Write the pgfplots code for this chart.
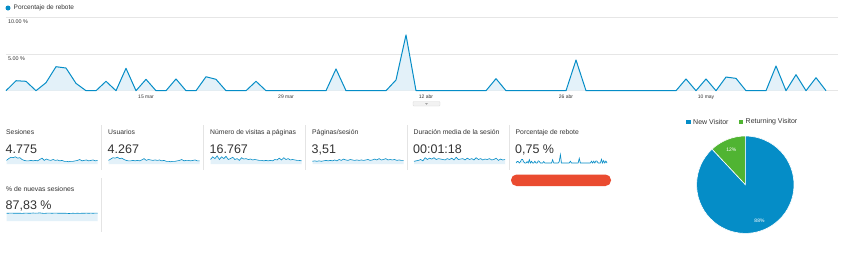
\documentclass[border=0pt]{standalone}
\usepackage{pgfplots}
\pgfplotsset{compat=1.18}
\usepackage{pgfplotstable}
\usepackage{fontspec}
\setmainfont{Liberation Sans}
\definecolor{gablue}{HTML}{058DC7}
\definecolor{gafill}{HTML}{E3F1F9}
\definecolor{gagreen}{HTML}{50B432}
\definecolor{gared}{HTML}{EA4B30}
\definecolor{gagrid}{HTML}{E6E6E6}
\definecolor{gasep}{HTML}{E4E4E4}
\definecolor{gatext}{HTML}{333333}

% Porcentaje de rebote, day 0 = 1 mar
\pgfplotstableread[row sep=\\]{
d v\\
0 0\\ 1 1.36\\ 2 1.28\\ 3 0\\ 4 1.09\\ 5 3.27\\ 6 3.09\\ 7 1.00\\ 8 0\\ 9 0\\
10 1.28\\ 11 0\\ 12 3.05\\ 13 0\\ 14 1.55\\ 15 0\\ 16 0\\ 17 1.60\\ 18 0\\ 19 0\\
20 1.90\\ 21 1.55\\ 22 0\\ 23 0\\ 24 0\\ 25 1.28\\ 26 0\\ 27 0\\ 28 0\\ 29 0\\
30 0\\ 31 0\\ 32 0\\ 33 2.96\\ 34 0\\ 35 0\\ 36 0\\ 37 0\\ 38 0\\ 39 1.46\\
40 7.59\\ 41 0\\ 42 0\\ 43 0\\ 44 0\\ 45 0\\ 46 0\\ 47 0\\ 48 0\\ 49 1.64\\
50 0\\ 51 0\\ 52 0\\ 53 0\\ 54 0\\ 55 0\\ 56 0\\ 57 4.18\\ 58 0\\ 59 0\\
60 0\\ 61 0\\ 62 0\\ 63 0\\ 64 0\\ 65 0\\ 66 0\\ 67 0\\ 68 1.60\\ 69 0\\
70 1.60\\ 71 0\\ 72 1.86\\ 73 1.68\\ 74 0\\ 75 0\\ 76 0\\ 77 3.36\\ 78 0\\ 79 2.18\\
80 0\\ 81 1.77\\ 82 0\\
}\bounce

\pgfplotstableread[row sep=\\]{
x y\\
0 4\\ 1 6\\ 2 7.5\\ 3 7\\ 4 8\\ 5 6.5\\ 6 7\\ 7 5\\ 8 4\\ 9 3.5\\ 10 3.5\\ 11 4\\ 12 3.5\\ 13 4\\
14 3.5\\ 15 5\\ 16 6.5\\ 17 4\\ 18 5.5\\ 19 4.5\\ 20 4\\ 21 5\\ 22 4\\ 23 4.5\\ 24 3.5\\ 25 4\\
26 3\\ 27 3\\ 28 2.5\\ 29 3\\ 30 3\\ 31 3.5\\ 32 4\\ 33 5\\ 34 3.5\\ 35 4\\ 36 4.5\\ 37 3.5\\
38 4\\ 39 4.5\\ 40 3.5\\ 41 4\\
}\sesiones

\pgfplotstableread[row sep=\\]{
x y\\
0 4\\ 1 5.5\\ 2 7\\ 3 6.5\\ 4 7.5\\ 5 6\\ 6 6.5\\ 7 5\\ 8 4\\ 9 3.5\\ 10 3.5\\ 11 4\\ 12 3.5\\ 13 4\\
14 3.5\\ 15 4.5\\ 16 6\\ 17 4\\ 18 5\\ 19 4.5\\ 20 4\\ 21 4.5\\ 22 4\\ 23 4.5\\ 24 3.5\\ 25 4\\
26 3\\ 27 3\\ 28 2.5\\ 29 3\\ 30 3\\ 31 3.5\\ 32 4\\ 33 5\\ 34 3.5\\ 35 4\\ 36 4\\ 37 3.5\\
38 4\\ 39 4.5\\ 40 3.5\\ 41 3.5\\
}\usuarios

\pgfplotstableread[row sep=\\]{
x y\\
0 5\\ 1 8\\ 2 6\\ 3 9\\ 4 5\\ 5 8\\ 6 6\\ 7 8.5\\ 8 5\\ 9 6\\ 10 7.5\\ 11 5\\ 12 6\\ 13 4\\
14 7\\ 15 5.5\\ 16 6\\ 17 5\\ 18 5.5\\ 19 4.5\\ 20 5\\ 21 4.5\\ 22 4\\ 23 4\\ 24 3.5\\ 25 4\\
26 3.5\\ 27 4\\ 28 3.5\\ 29 5\\ 30 4.5\\ 31 6.5\\ 32 4.5\\ 33 7\\ 34 5\\ 35 6\\ 36 4.5\\ 37 5\\
38 4.5\\ 39 4\\ 40 4\\ 41 3.5\\
}\visitas

\pgfplotstableread[row sep=\\]{
x y\\
0 3\\ 1 3.5\\ 2 3\\ 3 3.5\\ 4 3\\ 5 3.5\\ 6 4\\ 7 3.5\\ 8 4\\ 9 3.5\\ 10 4.5\\ 11 3.5\\ 12 5\\ 13 4\\
14 5.5\\ 15 4.5\\ 16 4\\ 17 5\\ 18 4.5\\ 19 4\\ 20 4.5\\ 21 4\\ 22 4.5\\ 23 4\\ 24 4.5\\ 25 5\\
26 4\\ 27 4.5\\ 28 5.5\\ 29 4.5\\ 30 6\\ 31 4.5\\ 32 5\\ 33 6\\ 34 4.5\\ 35 5\\ 36 4.5\\ 37 5\\
38 4\\ 39 4.5\\ 40 4\\ 41 4\\
}\paginas

\pgfplotstableread[row sep=\\]{
x y\\
0 3\\ 1 3.5\\ 2 4\\ 3 5\\ 4 3.5\\ 5 7\\ 6 5\\ 7 6.5\\ 8 5.5\\ 9 7\\ 10 5\\ 11 6\\ 12 5.5\\ 13 5\\
14 4.5\\ 15 6\\ 16 5\\ 17 6.5\\ 18 4.5\\ 19 7.5\\ 20 5\\ 21 5.5\\ 22 6\\ 23 4.5\\ 24 6.5\\ 25 5\\
26 6\\ 27 4.5\\ 28 7\\ 29 5\\ 30 6\\ 31 4.5\\ 32 5.5\\ 33 5\\ 34 6\\ 35 4.5\\ 36 5\\ 37 6.5\\
38 4\\ 39 5.5\\ 40 4.5\\ 41 5\\
}\duracion

\pgfplotstableread[row sep=\\]{
x y\\
0 7.8\\ 1 7.8\\ 2 7.9\\ 3 7.8\\ 4 7.7\\ 5 7.8\\ 6 7.8\\ 7 7.6\\ 8 7.8\\ 9 7.9\\ 10 7.7\\ 11 7.8\\ 12 8.0\\ 13 7.8\\
14 7.9\\ 15 8.1\\ 16 7.8\\ 17 7.6\\ 18 7.8\\ 19 7.9\\ 20 7.8\\ 21 7.8\\ 22 7.9\\ 23 7.8\\ 24 7.8\\ 25 7.8\\
26 7.8\\ 27 7.7\\ 28 7.5\\ 29 7.6\\ 30 7.8\\ 31 7.6\\ 32 7.8\\ 33 7.6\\ 34 7.8\\ 35 7.7\\ 36 7.9\\ 37 7.7\\
38 7.9\\ 39 7.7\\ 40 7.9\\ 41 7.8\\
}\nuevas

\pgfplotsset{
  spark/.style={scale only axis, width=91pt, height=9pt, hide axis,
    xmin=0, xmax=41, ymin=0, ymax=10, anchor=south west, clip=false},
}
\newcommand{\lab}{\fontsize{6.8}{8}\selectfont\color{gatext}}
\newcommand{\val}{\fontsize{12.5}{14}\selectfont\color{gatext}}

\begin{document}
\begin{tikzpicture}
\useasboundingbox (0,0) rectangle (850pt,-252pt);
\fill[white] (0,0) rectangle (850pt,-252pt);

% legend of main chart
\fill[gablue] (8pt,-8pt) circle (2.5pt);
\node[anchor=west, inner sep=0pt, font=\fontsize{6.5}{7}\selectfont, text=gatext] at (13.5pt,-8pt) {Porcentaje de rebote};

% main chart
\begin{axis}[scale only axis, width=832pt, height=73.4pt,
  at={(6pt,-90.7pt)}, anchor=south west,
  xmin=0, xmax=83.2, ymin=0, ymax=10,
  axis line style={draw=none},
  ytick={0,5,10}, yticklabels={}, ymajorgrids,
  grid style={gagrid, line width=0.5pt},
  xtick={14,28,42,56,70},
  xticklabels={15 mar,29 mar,12 abr,26 abr,10 may},
  major tick length=0pt, tick style={draw=none},
  xticklabel style={font=\fontsize{5}{6}\selectfont, text=gatext, yshift=-1pt},
  clip=false]
\addplot[fill=gafill, draw=none] table[x=d, y=v] {\bounce} \closedcycle;
\addplot[gablue, line width=1pt, line join=round] table[x=d, y=v] {\bounce};
\node[anchor=north west, inner sep=0pt, font=\fontsize{5.4}{6}\selectfont, text=gatext, yshift=-2.2pt] at (axis cs:0.2,10) {10.00 \%};
\node[anchor=north west, inner sep=0pt, font=\fontsize{5.4}{6}\selectfont, text=gatext, yshift=-2.2pt] at (axis cs:0.2,5) {5.00 \%};
\end{axis}

% drag handle under the main chart
\filldraw[fill=gray!10, draw=gray!30, line width=0.3pt, rounded corners=0.8pt] (413pt,-101.5pt) rectangle (440pt,-106pt);
\fill[gray!70] (425pt,-103pt) -- (428pt,-103pt) -- (426.5pt,-104.8pt) -- cycle;

% tile separators
\foreach \sx in {101,203,305,407,509}{
  \draw[gasep, line width=0.6pt] (\sx pt,-125pt) -- (\sx pt,-170pt);
}
\draw[gasep, line width=0.6pt] (101pt,-178pt) -- (101pt,-232pt);

% tile texts
\node[anchor=base west, inner sep=0pt] at (6pt,-134.2pt) {\lab Sesiones};
\node[anchor=base west, inner sep=0pt] at (108pt,-134.2pt) {\lab Usuarios};
\node[anchor=base west, inner sep=0pt] at (210pt,-134.2pt) {\lab Número de visitas a páginas};
\node[anchor=base west, inner sep=0pt] at (312pt,-134.2pt) {\lab Páginas/sesión};
\node[anchor=base west, inner sep=0pt] at (413.5pt,-134.2pt) {\lab Duración media de la sesión};
\node[anchor=base west, inner sep=0pt] at (515.5pt,-134.2pt) {\lab Porcentaje de rebote};
\node[anchor=base west, inner sep=0pt] at (5.5pt,-153.3pt) {\val 4.775};
\node[anchor=base west, inner sep=0pt] at (107.5pt,-153.3pt) {\val 4.267};
\node[anchor=base west, inner sep=0pt] at (209.5pt,-153.3pt) {\val 16.767};
\node[anchor=base west, inner sep=0pt] at (311.5pt,-153.3pt) {\val 3,51};
\node[anchor=base west, inner sep=0pt] at (413pt,-153.3pt) {\val 00:01:18};
\node[anchor=base west, inner sep=0pt] at (515pt,-153.3pt) {\val 0,75 \%};
\node[anchor=base west, inner sep=0pt] at (6pt,-191.6pt) {\lab \% de nuevas sesiones};
\node[anchor=base west, inner sep=0pt] at (5.5pt,-209.3pt) {\val 87,83 \%};

% sparklines
\begin{axis}[spark, at={(6.5pt,-164pt)}]
\addplot[fill=gafill, draw=none] table {\sesiones} \closedcycle;
\addplot[gablue, line width=0.6pt] table {\sesiones};
\end{axis}
\begin{axis}[spark, at={(108.5pt,-164pt)}]
\addplot[fill=gafill, draw=none] table {\usuarios} \closedcycle;
\addplot[gablue, line width=0.6pt] table {\usuarios};
\end{axis}
\begin{axis}[spark, at={(210.5pt,-164pt)}]
\addplot[fill=gafill, draw=none] table {\visitas} \closedcycle;
\addplot[gablue, line width=0.6pt] table {\visitas};
\end{axis}
\begin{axis}[spark, at={(312.5pt,-164pt)}]
\addplot[fill=gafill, draw=none] table {\paginas} \closedcycle;
\addplot[gablue, line width=0.6pt] table {\paginas};
\end{axis}
\begin{axis}[spark, at={(414pt,-164pt)}]
\addplot[fill=gafill, draw=none] table {\duracion} \closedcycle;
\addplot[gablue, line width=0.6pt] table {\duracion};
\end{axis}
\begin{axis}[spark, at={(516pt,-163pt)}, xmax=82, ymax=8]
\addplot[fill=gafill, draw=none] table[x=d, y=v] {\bounce} \closedcycle;
\addplot[gablue, line width=0.6pt] table[x=d, y=v] {\bounce};
\end{axis}
\begin{axis}[spark, at={(6.5pt,-221pt)}, height=10pt]
\addplot[fill=gafill, draw=none] table {\nuevas} \closedcycle;
\addplot[gablue, line width=0.6pt] table {\nuevas};
\end{axis}

% red bar
\fill[gared, rounded corners=5.5pt] (511pt,-174.5pt) rectangle (611pt,-186pt);

% pie legend
\fill[gablue] (686pt,-119.8pt) rectangle (690.5pt,-124.3pt);
\node[anchor=west, inner sep=0pt, font=\fontsize{7}{8}\selectfont, text=gatext] at (693pt,-122pt) {New Visitor};
\fill[gagreen] (738.5pt,-119.8pt) rectangle (743pt,-124.3pt);
\node[anchor=west, inner sep=0pt, font=\fontsize{7}{8}\selectfont, text=gatext] at (745.5pt,-122pt) {Returning Visitor};

% pie: 88 % new, 12 % returning
\def\pnew{88}\def\pret{12}
\pgfmathsetmacro{\angret}{90+3.6*\pret}
\begin{scope}[shift={(745.3pt,-184.7pt)}]
\filldraw[fill=gagreen, draw=white, line width=0.6pt] (0,0) -- (90:48.7pt) arc[start angle=90, end angle=\angret, radius=48.7pt] -- cycle;
\filldraw[fill=gablue, draw=white, line width=0.6pt] (0,0) -- (\angret:48.7pt) arc[start angle=\angret, end angle=450, radius=48.7pt] -- cycle;
\pgfmathsetmacro{\mret}{90+1.8*\pret}
\pgfmathsetmacro{\mnew}{\angret+1.8*\pnew}
\node[text=white, font=\fontsize{5}{6}\selectfont, inner sep=0pt] at (\mret:38pt) {\pret\%};
\node[text=white, font=\fontsize{5}{6}\selectfont, inner sep=0pt] at (\mnew:38.5pt) {\pnew\%};
\end{scope}
\end{tikzpicture}
\end{document}
